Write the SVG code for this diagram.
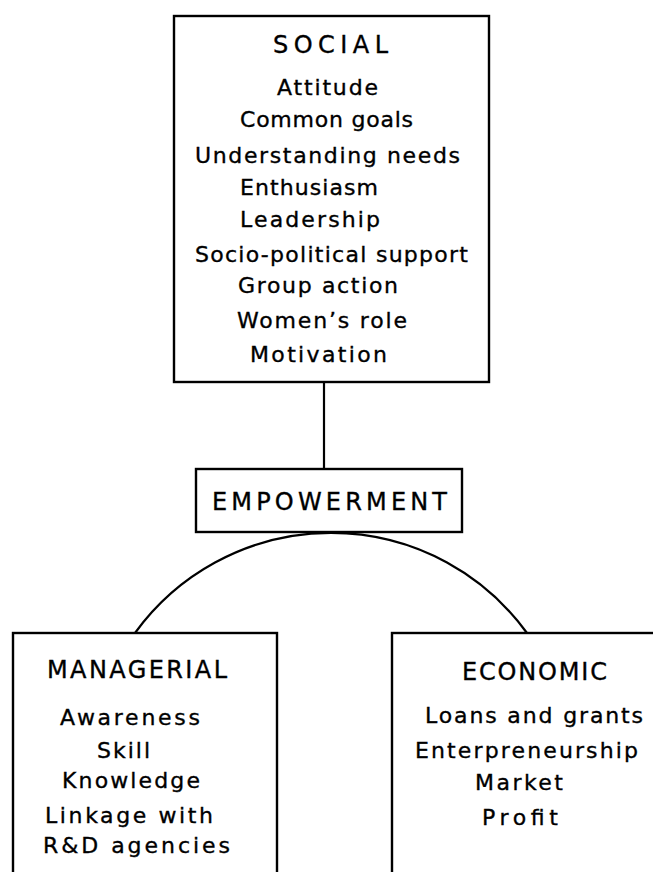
<svg xmlns="http://www.w3.org/2000/svg" width="653" height="872" viewBox="0 0 653 872">
<style>
.box{fill:#fff;stroke:#000;stroke-width:2.4}
.ln{fill:none;stroke:#000;stroke-width:2.2}
text{font-family:"DejaVu Sans","Liberation Sans",Arial,sans-serif;fill:#000;stroke:#000;stroke-width:0.35}
.h{font-size:24px}
.t{font-size:22px}
</style>
<rect width="653" height="872" fill="#fff" stroke="none"/>
<g id="connectors">
<line class="ln" x1="324" y1="382" x2="324" y2="469"/>
<path class="ln" d="M135,633 A242,242 0 0 1 527,633"/>
</g>
<g id="social">
<rect class="box" x="174" y="16" width="315" height="366"/>
<text class="h" x="273" y="53" textLength="115" lengthAdjust="spacing">SOCIAL</text>
<text class="t" x="277" y="95" textLength="101" lengthAdjust="spacing">Attitude</text>
<text class="t" x="240" y="127" textLength="173" lengthAdjust="spacing">Common goals</text>
<text class="t" x="195" y="163" textLength="265" lengthAdjust="spacing">Understanding needs</text>
<text class="t" x="240" y="195" textLength="138" lengthAdjust="spacing">Enthusiasm</text>
<text class="t" x="240" y="227" textLength="140" lengthAdjust="spacing">Leadership</text>
<text class="t" x="195" y="262" textLength="273" lengthAdjust="spacing">Socio-political support</text>
<text class="t" x="238" y="293" textLength="160" lengthAdjust="spacing">Group action</text>
<text class="t" x="237" y="328" textLength="170" lengthAdjust="spacing">Women’s role</text>
<text class="t" x="250" y="362" textLength="137" lengthAdjust="spacing">Motivation</text>
</g>
<g id="empowerment">
<rect class="box" x="196" y="469" width="266" height="63"/>
<text class="h" x="212" y="510" textLength="235" lengthAdjust="spacing">EMPOWERMENT</text>
</g>
<g id="managerial">
<rect class="box" x="13" y="633" width="264" height="260"/>
<text class="h" x="47" y="678" textLength="180" lengthAdjust="spacing">MANAGERIAL</text>
<text class="t" x="60" y="725" textLength="140" lengthAdjust="spacing">Awareness</text>
<text class="t" x="97" y="758" textLength="53" lengthAdjust="spacing">Skill</text>
<text class="t" x="62" y="788" textLength="138" lengthAdjust="spacing">Knowledge</text>
<text class="t" x="45" y="823" textLength="168" lengthAdjust="spacing">Linkage with</text>
<text class="t" x="43" y="853" textLength="187" lengthAdjust="spacing">R&amp;D agencies</text>
</g>
<g id="economic">
<rect class="box" x="392" y="633" width="280" height="260"/>
<text class="h" x="462" y="680" textLength="145" lengthAdjust="spacing">ECONOMIC</text>
<text class="t" x="425" y="723" textLength="218" lengthAdjust="spacing">Loans and grants</text>
<text class="t" x="415" y="758" textLength="223" lengthAdjust="spacing">Enterpreneurship</text>
<text class="t" x="475" y="790" textLength="88" lengthAdjust="spacing">Market</text>
<text class="t" x="482" y="825" textLength="76" lengthAdjust="spacing">Profit</text>
</g>
</svg>
